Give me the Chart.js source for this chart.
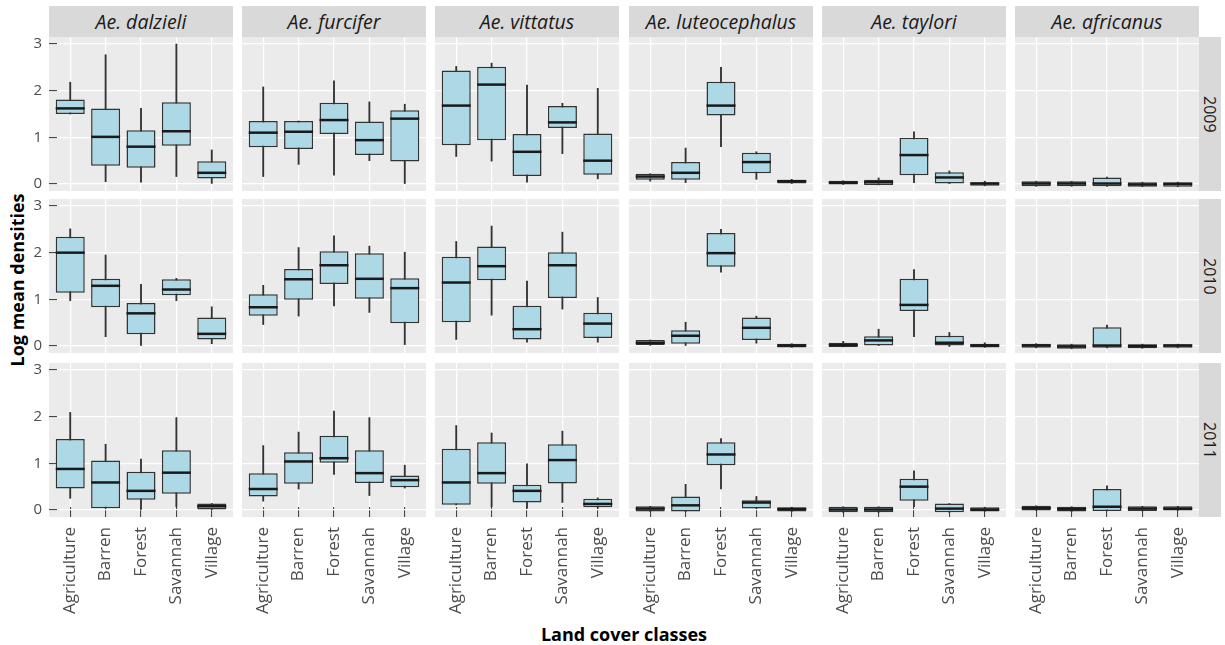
<!DOCTYPE html>
<html>
<head>
<meta charset="utf-8">
<script src="https://cdn.jsdelivr.net/npm/chart.js@4.4.1/dist/chart.umd.min.js"></script>
<style>
  body { margin: 0; background: #fff; }
  #fig { position: relative; width: 1225px; height: 645px; font-family: 'Open Sans', sans-serif; overflow: hidden; }
  #fig canvas { position: absolute; }
  .strip { position: absolute; background: #d9d9d9; color: #1a1a1a; display: flex; align-items: center; justify-content: center; }
  .top { font-style: italic; font-size: 19.5px; }
  .side { writing-mode: vertical-rl; font-size: 16px; }
  .title { position: absolute; font-weight: bold; font-size: 18px; color: #000; white-space: nowrap; transform: translate(-50%, -50%); }
</style>
</head>
<body>
<div id="fig"></div>
<script>
const species = ['Ae. dalzieli', 'Ae. furcifer', 'Ae. vittatus', 'Ae. luteocephalus', 'Ae. taylori', 'Ae. africanus'];
const years = ['2009', '2010', '2011'];
const landCover = ['Agriculture', 'Barren', 'Forest', 'Savannah', 'Village'];
const yTicks = [0, 1, 2, 3];

// one row per species, one value per land cover class
const lower2009 = [
  [1.50, 0.05, 0.04, 0.16, 0.00],
  [0.16, 0.42, 0.19, 0.50, 0.01],
  [0.59, 0.49, 0.04, 0.65, 0.11],
  [0.06, 0.03, 0.80, 0.10, 0.00],
  [-0.01, -0.02, 0.03, 0.01, -0.04],
  [-0.05, -0.05, -0.05, -0.06, -0.06]
];
const q1_2009 = [
  [1.50, 0.39, 0.35, 0.82, 0.12],
  [0.79, 0.75, 1.07, 0.62, 0.48],
  [0.83, 0.94, 0.17, 1.20, 0.20],
  [0.09, 0.09, 1.47, 0.23, 0.01],
  [-0.01, -0.02, 0.19, 0.01, -0.04],
  [-0.05, -0.05, -0.05, -0.06, -0.06]
];
const median2009 = [
  [1.62, 1.01, 0.80, 1.13, 0.24],
  [1.10, 1.12, 1.37, 0.94, 1.40],
  [1.68, 2.13, 0.69, 1.32, 0.50],
  [0.16, 0.24, 1.68, 0.47, 0.06],
  [0.03, 0.04, 0.62, 0.14, 0.01],
  [0.01, 0.01, 0.01, -0.01, 0.00]
];
const q3_2009 = [
  [1.81, 1.62, 1.15, 1.75, 0.49],
  [1.35, 1.35, 1.74, 1.34, 1.58],
  [2.43, 2.51, 1.07, 1.67, 1.08],
  [0.22, 0.47, 2.19, 0.67, 0.09],
  [0.07, 0.09, 0.99, 0.25, 0.04],
  [0.06, 0.06, 0.14, 0.04, 0.04]
];
const upper2009 = [
  [2.18, 2.77, 1.62, 3.00, 0.73],
  [2.08, 1.35, 2.21, 1.76, 1.71],
  [2.52, 2.59, 2.12, 1.73, 2.05],
  [0.22, 0.77, 2.50, 0.69, 0.10],
  [0.07, 0.13, 1.12, 0.28, 0.06],
  [0.06, 0.06, 0.15, 0.04, 0.04]
];

const lower2010 = [
  [0.97, 0.20, 0.01, 0.97, 0.05],
  [0.46, 0.64, 0.86, 0.72, 0.03],
  [0.14, 0.66, 0.08, 0.79, 0.08],
  [0.00, 0.01, 1.58, 0.06, -0.03],
  [-0.02, 0.01, 0.20, -0.01, -0.03],
  [-0.04, -0.06, -0.04, -0.05, -0.04]
];
const q1_2010 = [
  [1.14, 0.83, 0.25, 1.09, 0.14],
  [0.65, 0.99, 1.33, 1.01, 0.49],
  [0.51, 1.41, 0.14, 1.03, 0.17],
  [0.02, 0.05, 1.70, 0.13, -0.03],
  [-0.02, 0.01, 0.75, 0.01, -0.03],
  [-0.04, -0.06, -0.04, -0.05, -0.04]
];
const median2010 = [
  [2.00, 1.29, 0.70, 1.21, 0.26],
  [0.83, 1.43, 1.73, 1.44, 1.24],
  [1.36, 1.71, 0.36, 1.73, 0.48],
  [0.07, 0.22, 1.99, 0.39, 0.01],
  [0.02, 0.12, 0.88, 0.07, 0.01],
  [0.01, -0.01, 0.01, 0.00, 0.01]
];
const q3_2010 = [
  [2.34, 1.44, 0.92, 1.43, 0.61],
  [1.11, 1.65, 2.03, 1.99, 1.45],
  [1.91, 2.13, 0.86, 2.01, 0.71],
  [0.13, 0.34, 2.42, 0.61, 0.05],
  [0.07, 0.21, 1.44, 0.22, 0.05],
  [0.05, 0.04, 0.40, 0.04, 0.04]
];
const upper2010 = [
  [2.51, 1.95, 1.32, 1.45, 0.84],
  [1.30, 2.11, 2.36, 2.14, 2.01],
  [2.24, 2.57, 1.39, 2.44, 1.04],
  [0.13, 0.51, 2.50, 0.64, 0.05],
  [0.10, 0.36, 1.64, 0.29, 0.07],
  [0.05, 0.04, 0.45, 0.04, 0.04]
];

const lower2011 = [
  [0.25, 0.04, 0.00, 0.07, 0.01],
  [0.19, 0.45, 0.76, 0.31, 0.47],
  [0.11, 0.07, 0.04, 0.16, 0.04],
  [-0.03, -0.03, 0.45, 0.03, -0.03],
  [-0.05, -0.05, 0.07, -0.05, -0.03],
  [-0.01, -0.03, -0.02, -0.02, -0.01]
];
const q1_2011 = [
  [0.46, 0.04, 0.22, 0.35, 0.01],
  [0.29, 0.56, 1.01, 0.58, 0.49],
  [0.11, 0.56, 0.16, 0.57, 0.06],
  [-0.03, -0.03, 0.96, 0.03, -0.03],
  [-0.05, -0.05, 0.20, -0.05, -0.03],
  [-0.01, -0.03, -0.02, -0.02, -0.01]
];
const median2011 = [
  [0.88, 0.59, 0.41, 0.80, 0.08],
  [0.45, 1.04, 1.11, 0.79, 0.64],
  [0.59, 0.79, 0.41, 1.07, 0.13],
  [0.03, 0.10, 1.19, 0.16, 0.02],
  [0.01, 0.01, 0.50, 0.03, 0.01],
  [0.04, 0.02, 0.07, 0.03, 0.03]
];
const q3_2011 = [
  [1.52, 1.06, 0.82, 1.28, 0.14],
  [0.79, 1.24, 1.59, 1.28, 0.74],
  [1.31, 1.45, 0.54, 1.41, 0.24],
  [0.08, 0.29, 1.45, 0.21, 0.06],
  [0.07, 0.07, 0.67, 0.14, 0.06],
  [0.09, 0.07, 0.45, 0.08, 0.08]
];
const upper2011 = [
  [2.09, 1.41, 1.09, 1.98, 0.14],
  [1.38, 1.67, 2.12, 1.98, 0.96],
  [1.81, 1.65, 0.99, 1.69, 0.26],
  [0.08, 0.55, 1.53, 0.29, 0.06],
  [0.07, 0.07, 0.84, 0.14, 0.06],
  [0.09, 0.07, 0.52, 0.08, 0.08]
];

const byYear = [
  [lower2009, q1_2009, median2009, q3_2009, upper2009],
  [lower2010, q1_2010, median2010, q3_2010, upper2010],
  [lower2011, q1_2011, median2011, q3_2011, upper2011]
];

// facet grid layout
const panelLeft = [49, 242, 435, 629, 822, 1015];
const panelTop = [37, 199, 363];
const panelW = 184, panelH = 154;
const fig = document.getElementById('fig');

const panelBg = {
  id: 'panelBg',
  beforeDraw(chart) {
    const { ctx, chartArea: a } = chart;
    ctx.save();
    ctx.fillStyle = '#ebebeb';
    ctx.fillRect(a.left, a.top, a.right - a.left, a.bottom - a.top);
    ctx.restore();
  }
};

// keep the plot area fixed: no label padding eating into it
function noPadding(s) {
  s.paddingTop = 0;
  s.paddingBottom = 0;
  s.paddingLeft = 0;
  s.paddingRight = 0;
}

function addDiv(cls, text, css) {
  const d = document.createElement('div');
  d.className = cls;
  d.textContent = text;
  Object.assign(d.style, css);
  fig.appendChild(d);
}

species.forEach((sp, c) => {
  addDiv('strip top', sp, { left: panelLeft[c] + 'px', top: '6px', width: panelW + 'px', height: '31px' });
});
years.forEach((yr, r) => {
  addDiv('strip side', yr, { left: (panelLeft[5] + panelW) + 'px', top: panelTop[r] + 'px', width: '22px', height: panelH + 'px' });
});
addDiv('title', 'Log mean densities', { left: '17px', top: '280px', transform: 'translate(-50%, -50%) rotate(-90deg)' });
addDiv('title', 'Land cover classes', { left: '624px', top: '634px' });

years.forEach((yr, r) => {
  const [lo, q1, med, q3, hi] = byYear[r];
  species.forEach((sp, c) => {
    const isLeft = c === 0;
    const isBottom = r === years.length - 1;
    const padL = isLeft ? panelLeft[0] : 0;
    const padB = isBottom ? 100 : 0;

    const cv = document.createElement('canvas');
    cv.width = panelW + padL;
    cv.height = panelH + padB;
    cv.style.left = (panelLeft[c] - padL) + 'px';
    cv.style.top = panelTop[r] + 'px';
    cv.style.width = cv.width + 'px';
    cv.style.height = cv.height + 'px';
    fig.appendChild(cv);

    const pts = f => landCover.map((_, i) => ({ x: i, y: f(i) }));

    new Chart(cv, {
      type: 'bar',
      data: {
        datasets: [
          {
            type: 'line',
            data: pts(i => med[c][i]),
            showLine: false,
            pointStyle: 'line',
            pointRadius: 14.5,
            pointBorderWidth: 2.5,
            pointBorderColor: '#1a1a1a',
            borderColor: '#1a1a1a',
            order: 1
          },
          {
            data: pts(i => [q1[c][i], q3[c][i]]),
            backgroundColor: '#add8e6',
            borderColor: '#333333',
            borderWidth: 1.5,
            borderSkipped: false,
            grouped: false,
            barPercentage: 0.82,
            categoryPercentage: 1,
            order: 2
          },
          {
            data: pts(i => [lo[c][i], hi[c][i]]),
            backgroundColor: '#333333',
            borderWidth: 0,
            grouped: false,
            barThickness: 1.2,
            maxBarThickness: 1.2,
            order: 3
          }
        ]
      },
      options: {
        responsive: false,
        animation: false,
        events: [],
        layout: { padding: 0, autoPadding: false },
        plugins: { legend: { display: false }, tooltip: { enabled: false } },
        scales: {
          x: {
            type: 'linear',
            offset: false,
            min: -0.6,
            max: 4.6,
            afterBuildTicks: s => { s.ticks = landCover.map((_, i) => ({ value: i })); },
            afterFit: s => { s.height = padB; noPadding(s); },
            border: { display: false },
            grid: { offset: false, color: '#ffffff', lineWidth: 1.2, drawTicks: isBottom, tickLength: -10, tickColor: '#333333', tickWidth: 1 },
            ticks: {
              display: isBottom,
              callback: v => landCover[v],
              minRotation: 90,
              maxRotation: 90,
              autoSkip: false,
              padding: 20,
              color: '#4d4d4d',
              font: { family: "'Open Sans', sans-serif", size: 17 }
            }
          },
          y: {
            min: -0.15,
            max: 3.15,
            afterBuildTicks: s => { s.ticks = yTicks.map(v => ({ value: v })); },
            afterFit: s => { s.width = padL; noPadding(s); },
            border: { display: false },
            grid: { color: '#ffffff', lineWidth: 1.2, drawTicks: isLeft, tickLength: -8, tickColor: '#333333', tickWidth: 1 },
            ticks: {
              display: isLeft,
              padding: 15,
              color: '#4d4d4d',
              font: { family: "'Open Sans', sans-serif", size: 15 }
            }
          }
        }
      },
      plugins: [panelBg]
    });
  });
});
</script>
</body>
</html>
